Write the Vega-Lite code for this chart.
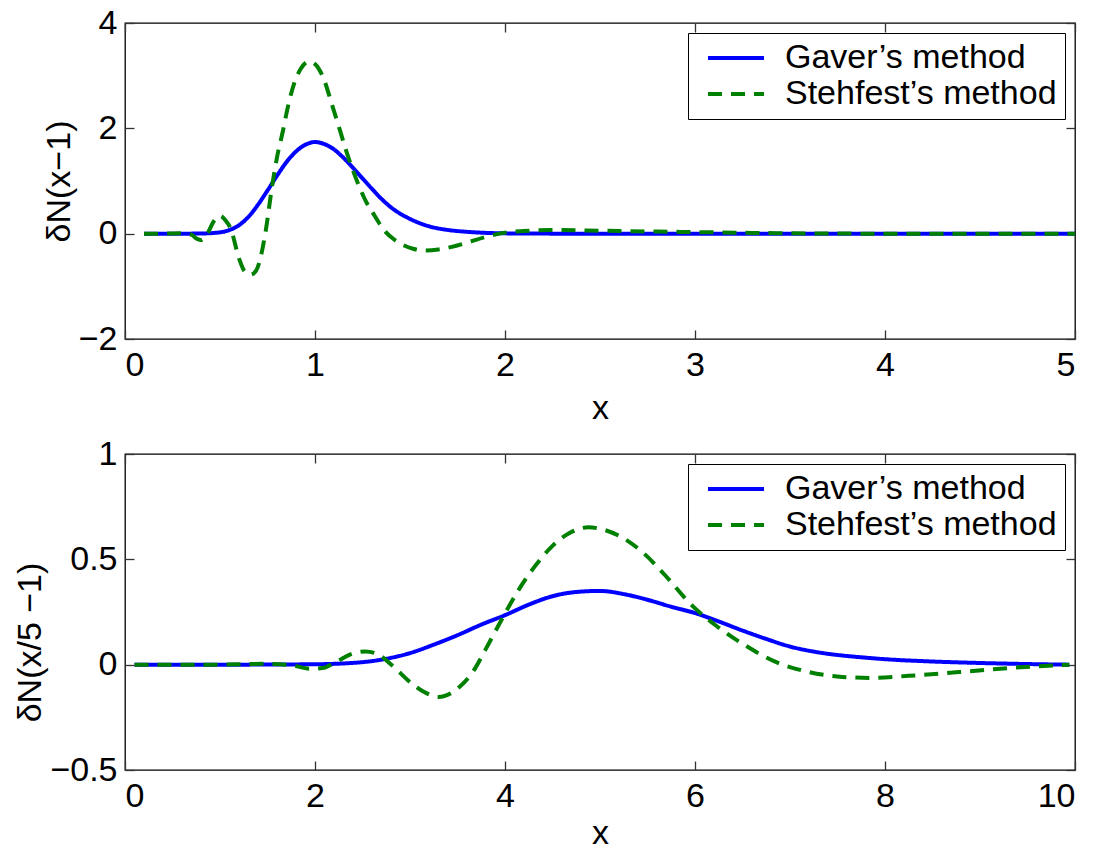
{
  "$schema": "https://vega.github.io/schema/vega-lite/v6.json",
  "padding": {"left": 13, "top": 5, "right": 2, "bottom": 0},
  "background": "white",
  "spacing": 10,
  "config": {
    "font": "Liberation Sans",
    "view": {"stroke": "black", "strokeWidth": 1.3},
    "axis": {
      "grid": false,
      "domain": false,
      "labelFont": "Liberation Sans",
      "labelFontSize": 34,
      "labelColor": "black",
      "titleFont": "Liberation Sans",
      "titleFontSize": 34,
      "titleFontWeight": "normal",
      "titleColor": "black",
      "tickColor": "#333333",
      "tickWidth": 1.3,
      "tickSize": -9,
      "format": "~r"
    },
    "axisBottom": {"labelPadding": 18, "titlePadding": 9},
    "axisLeft": {"labelPadding": 17, "titlePadding": 2},
    "legend": {
      "orient": "top-right",
      "offset": 10,
      "title": null,
      "strokeColor": "black",
      "fillColor": "white",
      "padding": 8,
      "labelFont": "Liberation Sans",
      "labelFontSize": 34,
      "labelColor": "black",
      "labelLimit": 400,
      "labelExpr": "datum.label + '\u00a0'",
      "symbolType": "M-5.6,0H5.6",
      "symbolSize": 100,
      "symbolStrokeWidth": 4,
      "symbolOffset": 23,
      "labelOffset": 32,
      "rowPadding": 2
    }
  },
  "datasets": {
    "top": [
      {"x": 0.1, "y": 0, "method": "Gaver’s method"},
      {"x": 0.3, "y": 0, "method": "Gaver’s method"},
      {"x": 0.4, "y": 0.003, "method": "Gaver’s method"},
      {"x": 0.5, "y": 0.025, "method": "Gaver’s method"},
      {"x": 0.55, "y": 0.07, "method": "Gaver’s method"},
      {"x": 0.6, "y": 0.16, "method": "Gaver’s method"},
      {"x": 0.65, "y": 0.32, "method": "Gaver’s method"},
      {"x": 0.7, "y": 0.55, "method": "Gaver’s method"},
      {"x": 0.75, "y": 0.82, "method": "Gaver’s method"},
      {"x": 0.8, "y": 1.1, "method": "Gaver’s method"},
      {"x": 0.85, "y": 1.36, "method": "Gaver’s method"},
      {"x": 0.9, "y": 1.56, "method": "Gaver’s method"},
      {"x": 0.95, "y": 1.69, "method": "Gaver’s method"},
      {"x": 1.0, "y": 1.74, "method": "Gaver’s method"},
      {"x": 1.05, "y": 1.7, "method": "Gaver’s method"},
      {"x": 1.1, "y": 1.6, "method": "Gaver’s method"},
      {"x": 1.15, "y": 1.44, "method": "Gaver’s method"},
      {"x": 1.2, "y": 1.25, "method": "Gaver’s method"},
      {"x": 1.25, "y": 1.05, "method": "Gaver’s method"},
      {"x": 1.3, "y": 0.85, "method": "Gaver’s method"},
      {"x": 1.35, "y": 0.66, "method": "Gaver’s method"},
      {"x": 1.4, "y": 0.5, "method": "Gaver’s method"},
      {"x": 1.5, "y": 0.28, "method": "Gaver’s method"},
      {"x": 1.6, "y": 0.14, "method": "Gaver’s method"},
      {"x": 1.7, "y": 0.07, "method": "Gaver’s method"},
      {"x": 1.8, "y": 0.035, "method": "Gaver’s method"},
      {"x": 1.9, "y": 0.015, "method": "Gaver’s method"},
      {"x": 2.0, "y": 0.006, "method": "Gaver’s method"},
      {"x": 2.2, "y": 0.001, "method": "Gaver’s method"},
      {"x": 2.5, "y": 0, "method": "Gaver’s method"},
      {"x": 3, "y": 0, "method": "Gaver’s method"},
      {"x": 4, "y": 0, "method": "Gaver’s method"},
      {"x": 5, "y": 0, "method": "Gaver’s method"},
      {"x": 0.1, "y": 0, "method": "Stehfest’s method"},
      {"x": 0.2, "y": 0, "method": "Stehfest’s method"},
      {"x": 0.3, "y": 0.01, "method": "Stehfest’s method"},
      {"x": 0.35, "y": -0.02, "method": "Stehfest’s method"},
      {"x": 0.38, "y": -0.1, "method": "Stehfest’s method"},
      {"x": 0.4, "y": -0.12, "method": "Stehfest’s method"},
      {"x": 0.43, "y": -0.02, "method": "Stehfest’s method"},
      {"x": 0.47, "y": 0.25, "method": "Stehfest’s method"},
      {"x": 0.5, "y": 0.34, "method": "Stehfest’s method"},
      {"x": 0.53, "y": 0.25, "method": "Stehfest’s method"},
      {"x": 0.556, "y": 0.1, "method": "Stehfest’s method"},
      {"x": 0.6, "y": -0.47, "method": "Stehfest’s method"},
      {"x": 0.63, "y": -0.72, "method": "Stehfest’s method"},
      {"x": 0.66, "y": -0.78, "method": "Stehfest’s method"},
      {"x": 0.69, "y": -0.7, "method": "Stehfest’s method"},
      {"x": 0.72, "y": -0.35, "method": "Stehfest’s method"},
      {"x": 0.74, "y": 0.04, "method": "Stehfest’s method"},
      {"x": 0.775, "y": 0.92, "method": "Stehfest’s method"},
      {"x": 0.8, "y": 1.45, "method": "Stehfest’s method"},
      {"x": 0.83, "y": 1.93, "method": "Stehfest’s method"},
      {"x": 0.86, "y": 2.45, "method": "Stehfest’s method"},
      {"x": 0.89, "y": 2.85, "method": "Stehfest’s method"},
      {"x": 0.925, "y": 3.13, "method": "Stehfest’s method"},
      {"x": 0.968, "y": 3.27, "method": "Stehfest’s method"},
      {"x": 1.0, "y": 3.22, "method": "Stehfest’s method"},
      {"x": 1.02, "y": 3.13, "method": "Stehfest’s method"},
      {"x": 1.05, "y": 2.9, "method": "Stehfest’s method"},
      {"x": 1.09, "y": 2.44, "method": "Stehfest’s method"},
      {"x": 1.13, "y": 1.98, "method": "Stehfest’s method"},
      {"x": 1.16, "y": 1.62, "method": "Stehfest’s method"},
      {"x": 1.2, "y": 1.2, "method": "Stehfest’s method"},
      {"x": 1.23, "y": 0.92, "method": "Stehfest’s method"},
      {"x": 1.27, "y": 0.6, "method": "Stehfest’s method"},
      {"x": 1.3, "y": 0.42, "method": "Stehfest’s method"},
      {"x": 1.37, "y": 0.04, "method": "Stehfest’s method"},
      {"x": 1.42, "y": -0.12, "method": "Stehfest’s method"},
      {"x": 1.46, "y": -0.21, "method": "Stehfest’s method"},
      {"x": 1.52, "y": -0.29, "method": "Stehfest’s method"},
      {"x": 1.58, "y": -0.32, "method": "Stehfest’s method"},
      {"x": 1.65, "y": -0.3, "method": "Stehfest’s method"},
      {"x": 1.72, "y": -0.25, "method": "Stehfest’s method"},
      {"x": 1.8, "y": -0.17, "method": "Stehfest’s method"},
      {"x": 1.9, "y": -0.06, "method": "Stehfest’s method"},
      {"x": 2.0, "y": 0.02, "method": "Stehfest’s method"},
      {"x": 2.1, "y": 0.05, "method": "Stehfest’s method"},
      {"x": 2.25, "y": 0.07, "method": "Stehfest’s method"},
      {"x": 2.42, "y": 0.06, "method": "Stehfest’s method"},
      {"x": 2.6, "y": 0.05, "method": "Stehfest’s method"},
      {"x": 2.8, "y": 0.04, "method": "Stehfest’s method"},
      {"x": 3.0, "y": 0.03, "method": "Stehfest’s method"},
      {"x": 3.3, "y": 0.015, "method": "Stehfest’s method"},
      {"x": 3.6, "y": 0.005, "method": "Stehfest’s method"},
      {"x": 4.0, "y": 0, "method": "Stehfest’s method"},
      {"x": 4.5, "y": 0, "method": "Stehfest’s method"},
      {"x": 5, "y": 0, "method": "Stehfest’s method"}
    ],
    "bottom": [
      {"x": 0.1, "y": 0, "method": "Gaver’s method"},
      {"x": 1, "y": 0, "method": "Gaver’s method"},
      {"x": 2, "y": 0.002, "method": "Gaver’s method"},
      {"x": 2.5, "y": 0.012, "method": "Gaver’s method"},
      {"x": 2.75, "y": 0.028, "method": "Gaver’s method"},
      {"x": 3.0, "y": 0.055, "method": "Gaver’s method"},
      {"x": 3.25, "y": 0.095, "method": "Gaver’s method"},
      {"x": 3.5, "y": 0.14, "method": "Gaver’s method"},
      {"x": 3.75, "y": 0.19, "method": "Gaver’s method"},
      {"x": 4.0, "y": 0.235, "method": "Gaver’s method"},
      {"x": 4.25, "y": 0.285, "method": "Gaver’s method"},
      {"x": 4.5, "y": 0.325, "method": "Gaver’s method"},
      {"x": 4.75, "y": 0.345, "method": "Gaver’s method"},
      {"x": 5.0, "y": 0.35, "method": "Gaver’s method"},
      {"x": 5.25, "y": 0.335, "method": "Gaver’s method"},
      {"x": 5.5, "y": 0.308, "method": "Gaver’s method"},
      {"x": 5.75, "y": 0.275, "method": "Gaver’s method"},
      {"x": 6.0, "y": 0.245, "method": "Gaver’s method"},
      {"x": 6.25, "y": 0.205, "method": "Gaver’s method"},
      {"x": 6.5, "y": 0.162, "method": "Gaver’s method"},
      {"x": 6.75, "y": 0.122, "method": "Gaver’s method"},
      {"x": 7.0, "y": 0.086, "method": "Gaver’s method"},
      {"x": 7.25, "y": 0.062, "method": "Gaver’s method"},
      {"x": 7.5, "y": 0.046, "method": "Gaver’s method"},
      {"x": 7.75, "y": 0.035, "method": "Gaver’s method"},
      {"x": 8.0, "y": 0.026, "method": "Gaver’s method"},
      {"x": 8.5, "y": 0.015, "method": "Gaver’s method"},
      {"x": 9.0, "y": 0.008, "method": "Gaver’s method"},
      {"x": 9.5, "y": 0.003, "method": "Gaver’s method"},
      {"x": 9.94, "y": 0, "method": "Gaver’s method"},
      {"x": 0.1, "y": 0, "method": "Stehfest’s method"},
      {"x": 1, "y": 0, "method": "Stehfest’s method"},
      {"x": 1.5, "y": 0.004, "method": "Stehfest’s method"},
      {"x": 1.76, "y": -0.003, "method": "Stehfest’s method"},
      {"x": 1.94, "y": -0.019, "method": "Stehfest’s method"},
      {"x": 2.08, "y": -0.016, "method": "Stehfest’s method"},
      {"x": 2.22, "y": 0.013, "method": "Stehfest’s method"},
      {"x": 2.39, "y": 0.052, "method": "Stehfest’s method"},
      {"x": 2.53, "y": 0.063, "method": "Stehfest’s method"},
      {"x": 2.67, "y": 0.047, "method": "Stehfest’s method"},
      {"x": 2.81, "y": -0.003, "method": "Stehfest’s method"},
      {"x": 3.02, "y": -0.09, "method": "Stehfest’s method"},
      {"x": 3.15, "y": -0.13, "method": "Stehfest’s method"},
      {"x": 3.3, "y": -0.153, "method": "Stehfest’s method"},
      {"x": 3.45, "y": -0.13, "method": "Stehfest’s method"},
      {"x": 3.52, "y": -0.106, "method": "Stehfest’s method"},
      {"x": 3.66, "y": -0.035, "method": "Stehfest’s method"},
      {"x": 3.8, "y": 0.076, "method": "Stehfest’s method"},
      {"x": 3.97, "y": 0.218, "method": "Stehfest’s method"},
      {"x": 4.15, "y": 0.36, "method": "Stehfest’s method"},
      {"x": 4.32, "y": 0.47, "method": "Stehfest’s method"},
      {"x": 4.5, "y": 0.564, "method": "Stehfest’s method"},
      {"x": 4.67, "y": 0.623, "method": "Stehfest’s method"},
      {"x": 4.88, "y": 0.652, "method": "Stehfest’s method"},
      {"x": 5.0, "y": 0.645, "method": "Stehfest’s method"},
      {"x": 5.2, "y": 0.612, "method": "Stehfest’s method"},
      {"x": 5.45, "y": 0.533, "method": "Stehfest’s method"},
      {"x": 5.69, "y": 0.422, "method": "Stehfest’s method"},
      {"x": 5.97, "y": 0.28, "method": "Stehfest’s method"},
      {"x": 6.22, "y": 0.186, "method": "Stehfest’s method"},
      {"x": 6.53, "y": 0.091, "method": "Stehfest’s method"},
      {"x": 6.85, "y": 0.013, "method": "Stehfest’s method"},
      {"x": 7.2, "y": -0.035, "method": "Stehfest’s method"},
      {"x": 7.55, "y": -0.058, "method": "Stehfest’s method"},
      {"x": 7.87, "y": -0.063, "method": "Stehfest’s method"},
      {"x": 8.25, "y": -0.053, "method": "Stehfest’s method"},
      {"x": 8.78, "y": -0.035, "method": "Stehfest’s method"},
      {"x": 9.31, "y": -0.016, "method": "Stehfest’s method"},
      {"x": 9.94, "y": 0, "method": "Stehfest’s method"}
    ]
  },
  "vconcat": [
    {
      "width": 950,
      "height": 316,
      "data": {"name": "top"},
      "resolve": {"axis": {"x": "independent", "y": "independent"}},
      "layer": [
        {
          "mark": {"type": "line", "strokeWidth": 4, "interpolate": "monotone"},
          "encoding": {
            "x": {"field": "x", "type": "quantitative", "scale": {"domain": [0, 5], "nice": false, "zero": false}, "axis": {"values": [0, 1, 2, 3, 4, 5], "title": "x"}},
            "y": {"field": "y", "type": "quantitative", "scale": {"domain": [-2, 4], "nice": false, "zero": false}, "axis": {"values": [-2, 0, 2, 4], "title": "δN(x−1)"}},
            "color": {"field": "method", "type": "nominal", "scale": {"domain": ["Gaver’s method", "Stehfest’s method"], "range": ["#0000ff", "#008000"]}},
            "strokeDash": {"field": "method", "type": "nominal", "scale": {"domain": ["Gaver’s method", "Stehfest’s method"], "range": [[1, 0], [14, 9]]}}
          }
        },
        {
          "mark": {"type": "point", "opacity": 0, "size": 0},
          "encoding": {
            "x": {"field": "x", "type": "quantitative", "axis": {"orient": "top", "values": [0, 1, 2, 3, 4, 5], "labels": false, "title": null}},
            "y": {"field": "y", "type": "quantitative", "axis": {"orient": "right", "values": [-2, 0, 2, 4], "labels": false, "title": null}}
          }
        }
      ]
    },
    {
      "width": 950,
      "height": 316,
      "data": {"name": "bottom"},
      "resolve": {"axis": {"x": "independent", "y": "independent"}},
      "layer": [
        {
          "mark": {"type": "line", "strokeWidth": 4, "interpolate": "monotone"},
          "encoding": {
            "x": {"field": "x", "type": "quantitative", "scale": {"domain": [0, 10], "nice": false, "zero": false}, "axis": {"values": [0, 2, 4, 6, 8, 10], "title": "x", "titlePadding": 3}},
            "y": {"field": "y", "type": "quantitative", "scale": {"domain": [-0.5, 1], "nice": false, "zero": false}, "axis": {"values": [-0.5, 0, 0.5, 1], "title": "δN(x/5 −1)", "titleY": 188}},
            "color": {"field": "method", "type": "nominal", "scale": {"domain": ["Gaver’s method", "Stehfest’s method"], "range": ["#0000ff", "#008000"]}},
            "strokeDash": {"field": "method", "type": "nominal", "scale": {"domain": ["Gaver’s method", "Stehfest’s method"], "range": [[1, 0], [14, 9]]}}
          }
        },
        {
          "mark": {"type": "point", "opacity": 0, "size": 0},
          "encoding": {
            "x": {"field": "x", "type": "quantitative", "axis": {"orient": "top", "values": [0, 2, 4, 6, 8, 10], "labels": false, "title": null}},
            "y": {"field": "y", "type": "quantitative", "axis": {"orient": "right", "values": [-0.5, 0, 0.5, 1], "labels": false, "title": null}}
          }
        }
      ]
    }
  ],
  "resolve": {"scale": {"color": "independent", "strokeDash": "independent"}}
}
